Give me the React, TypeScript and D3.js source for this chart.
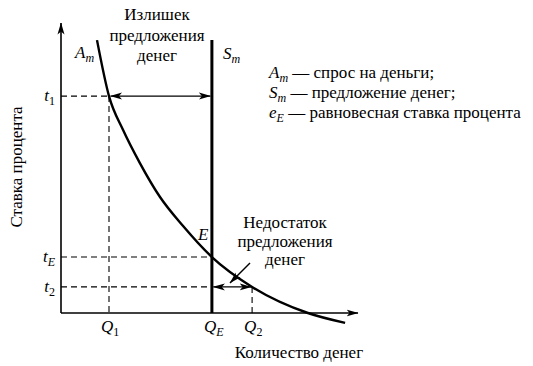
import React from "react";
import * as d3 from "d3";

// Demand curve A_m (quantity of money Q vs interest rate t), in chart units
const demandQ = [1.2, 1.6, 2.07, 2.63, 3.3, 4.07, 5.03, 6.37, 8.23, 9.47];
const demandT = [9.41, 7.48, 6.31, 5.17, 4.0, 3.0, 1.93, 0.9, 0, -0.34];

// Key levels
const qLabels = ["1", "E", "2"];
const qValues = [1.6, 5.03, 6.37];
const tLabels = ["1", "E", "2"];
const tValues = [7.48, 1.93, 0.9];

const supplyTop = 9.41;
const xAxisMax = 9.9;
const yAxisMax = 10;

const legendSym = ["A", "S", "e"];
const legendSub = ["m", "m", "E"];
const legendText = [" — спрос на деньги;", " — предложение денег;", " — равновесная ставка процента"];

const surplusLines = ["Излишек", "предложения", "денег"];
const shortageLines = ["Недостаток", "предложения", "денег"];

const W = 533;
const H = 366;
const FONT = "Liberation Serif, Times New Roman, serif";

export default function App() {
  const x = d3.scaleLinear().domain([0, 10]).range([61, 361]);
  const y = d3.scaleLinear().domain([0, 10]).range([313, 23]);

  const pts: [number, number][] = demandQ.map((q, i) => [q, demandT[i]]);
  const line = d3
    .line<[number, number]>()
    .x((d) => x(d[0]))
    .y((d) => y(d[1]))
    .curve(d3.curveMonotoneX);

  const [q1, qE, q2] = qValues;
  const [t1, tE, t2] = tValues;
  const dash = "6,4";

  return (
    <svg
      width={W}
      height={H}
      style={{ position: "absolute", left: 0, top: 0, background: "#fff", fontFamily: FONT, fontSize: "17px" }}
    >
      <defs>
        <marker
          id="ah"
          viewBox="0 0 12 8"
          refX="11.5"
          refY="4"
          markerWidth="12"
          markerHeight="8"
          markerUnits="userSpaceOnUse"
          orient="auto-start-reverse"
        >
          <path d="M0,0.5 L12,4 L0,7.5 L3,4 Z" fill="#000" />
        </marker>
      </defs>
      <rect x={0} y={0} width={W} height={H} fill="#fff" />

      {/* dashed guides */}
      <g stroke="#000" strokeWidth={1.1} strokeDasharray={dash} fill="none">
        <line x1={x(0)} y1={y(t1)} x2={x(q1)} y2={y(t1)} />
        <line x1={x(q1)} y1={y(t1)} x2={x(q1)} y2={y(0)} />
        <line x1={x(0)} y1={y(tE)} x2={x(qE)} y2={y(tE)} />
        <line x1={x(0)} y1={y(t2)} x2={x(qE)} y2={y(t2)} />
        <line x1={x(q2)} y1={y(t2)} x2={x(q2)} y2={y(0)} />
      </g>

      {/* axes */}
      <g stroke="#000" strokeWidth={1.6} fill="none">
        <line x1={x(0)} y1={y(0)} x2={x(0)} y2={y(yAxisMax)} markerEnd="url(#ah)" />
        <line x1={x(0)} y1={y(0)} x2={x(xAxisMax)} y2={y(0)} markerEnd="url(#ah)" />
      </g>

      {/* supply line */}
      <line x1={x(qE)} y1={y(0)} x2={x(qE)} y2={y(supplyTop)} stroke="#000" strokeWidth={3} />

      {/* demand curve */}
      <path d={line(pts) || ""} stroke="#000" strokeWidth={2.4} fill="none" />

      {/* double arrows */}
      <g stroke="#000" strokeWidth={1.4} fill="none">
        <line
          x1={x(q1) + 1.5}
          y1={y(t1)}
          x2={x(qE) - 1.5}
          y2={y(t1)}
          markerStart="url(#ah)"
          markerEnd="url(#ah)"
        />
        <line
          x1={x(qE) + 1.5}
          y1={y(t2)}
          x2={x(q2) - 1}
          y2={y(t2)}
          markerStart="url(#ah)"
          markerEnd="url(#ah)"
        />
        <line x1={250} y1={263} x2={230} y2={283} markerEnd="url(#ah)" />
      </g>

      {/* y tick labels */}
      {tValues.map((v, i) => (
        <text key={"t" + i} x={55} y={y(v) + 5} textAnchor="end">
          <tspan fontStyle="italic">t</tspan>
          <tspan fontSize={12} dy={4} fontStyle={tLabels[i] === "E" ? "italic" : "normal"}>
            {tLabels[i]}
          </tspan>
        </text>
      ))}

      {/* x tick labels */}
      {qValues.map((v, i) => (
        <text key={"q" + i} x={x(v) - 8} y={332}>
          <tspan fontStyle="italic">Q</tspan>
          <tspan fontSize={12} dy={4} fontStyle={qLabels[i] === "E" ? "italic" : "normal"}>
            {qLabels[i]}
          </tspan>
        </text>
      ))}

      {/* curve labels */}
      <text x={75} y={58}>
        <tspan fontStyle="italic">A</tspan>
        <tspan fontStyle="italic" fontSize={12} dy={4}>m</tspan>
      </text>
      <text x={223} y={59}>
        <tspan fontStyle="italic">S</tspan>
        <tspan fontStyle="italic" fontSize={12} dy={4}>m</tspan>
      </text>
      <text x={198} y={240} fontStyle="italic">E</text>

      {/* surplus label */}
      {surplusLines.map((s, i) => (
        <text key={"s" + i} x={157} y={20 + i * 20.5} textAnchor="middle">
          {s}
        </text>
      ))}

      {/* shortage label */}
      {shortageLines.map((s, i) => (
        <text key={"d" + i} x={285} y={228 + i * 18.5} textAnchor="middle">
          {s}
        </text>
      ))}

      {/* legend */}
      {legendSym.map((s, i) => (
        <text key={"l" + i} x={269} y={78 + i * 20}>
          <tspan fontStyle="italic">{s}</tspan>
          <tspan fontStyle="italic" fontSize={12} dy={4}>
            {legendSub[i]}
          </tspan>
          <tspan dy={-4}>{legendText[i]}</tspan>
        </text>
      ))}

      {/* axis titles */}
      <text x={299} y={358} textAnchor="middle">Количество денег</text>
      <text transform="translate(22,167) rotate(-90)" textAnchor="middle">
        Ставка процента
      </text>
    </svg>
  );
}
